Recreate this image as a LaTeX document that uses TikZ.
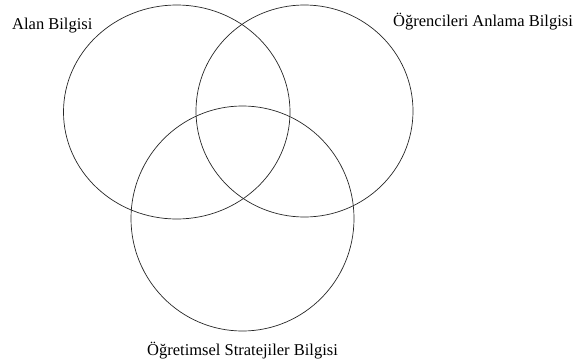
\documentclass[tikz,border=0pt]{standalone}
\usepackage{fontspec}
\setmainfont{Liberation Serif}
\usepackage{tikz}
\usetikzlibrary{shapes.geometric,positioning}

\begin{document}
\begin{tikzpicture}[
  x=1pt,y=-1pt,
  every node/.style={font=\fontsize{16.5}{19}\selectfont},
  set/.style={draw=black!85,line width=0.7pt,ellipse,inner sep=0pt},
  lbl/.style={anchor=base west,inner sep=0pt},
]
\useasboundingbox (0,0) rectangle (581,364);

%% The three knowledge sets
\node[set,minimum width=226.5pt,minimum height=214pt] (alan) at (176.75,112) {};
\node[set,minimum width=217pt,minimum height=212pt] (ogrenci) at (304.5,111) {};
\node[set,minimum width=223pt,minimum height=225pt] (strateji) at (242.5,218.5) {};

%% Labels
\node[lbl] (alanL) at (12,29) {Alan Bilgisi};
\node[lbl] (ogrenciL) at (393,26) {Öğrencileri Anlama Bilgisi};
\node[lbl] (stratejiL) at (147,355) {Öğretimsel Stratejiler Bilgisi};

\end{tikzpicture}
\end{document}
